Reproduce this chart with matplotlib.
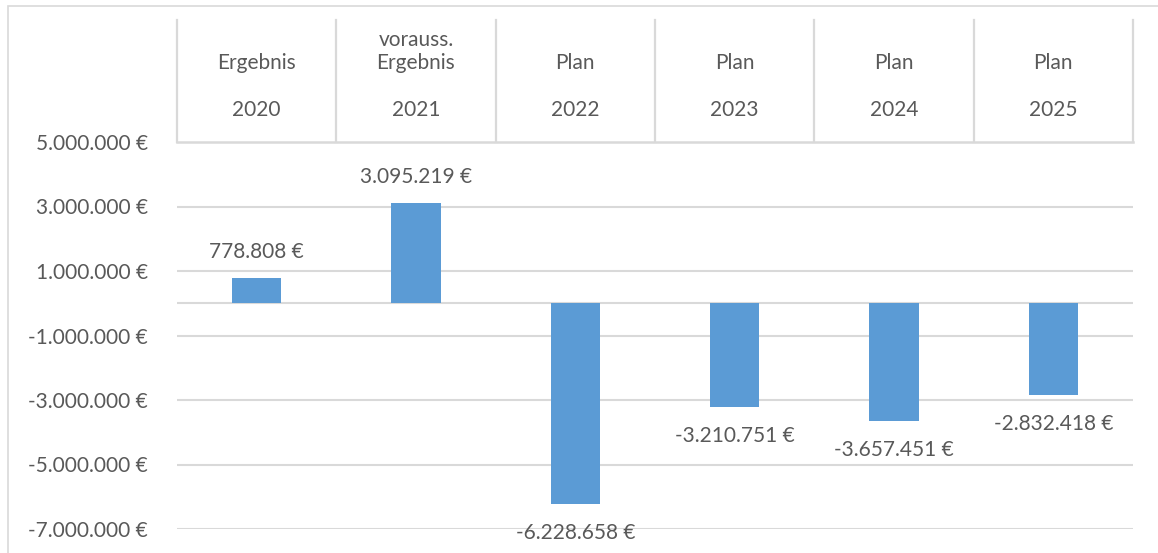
import matplotlib
matplotlib.use('Agg')
import matplotlib.pyplot as plt
import matplotlib.transforms as mtransforms
from matplotlib.patches import Rectangle

# data
top_labels = ['Ergebnis', 'vorauss.\nErgebnis', 'Plan', 'Plan', 'Plan', 'Plan']
years = ['2020', '2021', '2022', '2023', '2024', '2025']
values = [778808, 3095219, -6228658, -3210751, -3657451, -2832418]
yticks = [-7000000, -5000000, -3000000, -1000000, 1000000, 3000000, 5000000]

bar_color = '#5B9BD5'
text_color = '#595959'
grid_color = '#D9D9D9'

plt.rcParams['font.family'] = ['Lato', 'DejaVu Sans']
plt.rcParams['font.size'] = 15


def euro(v):
    s = '{:,.0f}'.format(v).replace(',', '.')
    return s + ' €'


fig = plt.figure(figsize=(11.58, 5.53), dpi=100)
ax = fig.add_axes([177 / 1158, 1 - 529 / 553, (1133 - 177) / 1158, 387 / 553])

x = list(range(len(values)))
ax.bar(x, values, width=0.31, color=bar_color, zorder=3)

ax.set_xlim(-0.5, len(values) - 0.5)
ax.set_ylim(-7000000, 5000000)
ax.set_yticks(yticks)
ax.set_yticklabels([euro(t) for t in yticks], color=text_color)
ax.tick_params(axis='y', length=0, pad=21)
ax.set_xticks([])
for sp in ax.spines.values():
    sp.set_visible(False)

for t in yticks[:-1] + [0]:
    ax.axhline(t, color=grid_color, lw=1.5, zorder=1)
ax.axhline(5000000, color=grid_color, lw=1.8, zorder=1, clip_on=False)

# data labels
for xi, v in zip(x, values):
    if v >= 0:
        ax.annotate(euro(v), (xi, v), xytext=(0, 19), textcoords='offset points',
                    ha='center', va='center', color=text_color)
    else:
        ax.annotate(euro(v), (xi, v), xytext=(0, -21), textcoords='offset points',
                    ha='center', va='center', color=text_color)

# category header on top
trans = mtransforms.blended_transform_factory(ax.transData, ax.transAxes)
for b in range(len(values) + 1):
    ax.plot([b - 0.5, b - 0.5], [1.0, 1.315], transform=trans, color=grid_color,
            lw=1.6, clip_on=False)
for xi, lab, yr in zip(x, top_labels, years):
    lines = lab.split('\n')
    if len(lines) == 2:
        ax.text(xi, 1.264, lines[0], transform=trans, ha='center', va='center', color=text_color)
    ax.text(xi, 1.204, lines[-1], transform=trans, ha='center', va='center', color=text_color)
    ax.text(xi, 1.083, yr, transform=trans, ha='center', va='center', color=text_color)

# outer chart border
fig.patches.append(Rectangle((8 / 1158, -0.05), 1.1, 1 - 6 / 553 + 0.05, transform=fig.transFigure,
                             fill=False, edgecolor=grid_color, lw=1.2))

fig.savefig('out.png', dpi=100)
